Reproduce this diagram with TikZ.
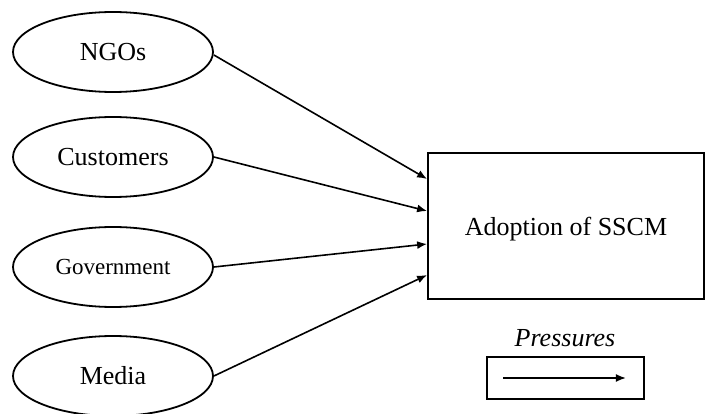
\documentclass[tikz,border=0pt]{standalone}
\usepackage{fontspec}
\setmainfont{Liberation Serif}
\usetikzlibrary{arrows.meta,shapes.geometric}
\begin{document}
\begin{tikzpicture}[x=1pt,y=-1pt,
  line width=1.8pt,
  actor/.style={draw, ellipse, minimum width=200pt, minimum height=80pt, inner sep=0pt,
    font=\fontsize{26}{30}\selectfont},
  target/.style={draw, rectangle, minimum width=276pt, minimum height=146pt, inner sep=0pt,
    font=\fontsize{26}{30}\selectfont},
  pressure/.style={-{Latex[length=10pt,width=8pt]}, line width=1.6pt}]
\useasboundingbox (0,0) rectangle (705,414);

% pressure sources
\node[actor] (ngo)  at (113,52)  {NGOs};
\node[actor] (cust) at (113,157) {Customers};
\node[actor, font=\fontsize{23}{27}\selectfont] (gov) at (113,267) {Government};
\node[actor] (media) at (113,376) {Media};

% adoption outcome
\node[target, text depth=-4pt] (sscm) at (566,226) {Adoption of SSCM};

% arrow end points on the left side of the box
\coordinate (in1) at ([yshift=47pt]sscm.west);
\coordinate (in2) at ([yshift=15pt]sscm.west);
\coordinate (in3) at ([yshift=-18pt]sscm.west);
\coordinate (in4) at ([yshift=-49pt]sscm.west);

\draw[pressure] ([yshift=-3pt]ngo.east) -- (in1);
\draw[pressure] (cust.east) -- (in2);
\draw[pressure] (gov.east) -- (in3);
\draw[pressure] (media.east) -- (in4);

% legend
\node[font=\fontsize{26}{30}\selectfont\itshape] (legtitle) at (565,338) {Pressures};
\node[draw, rectangle, minimum width=157pt, minimum height=42pt, inner sep=0pt] (legbox) at (565.5,378) {};
\coordinate (lega) at ([xshift=17pt]legbox.west);
\coordinate (legb) at ([xshift=-19pt]legbox.east);
\draw[pressure] (lega) -- (legb);
\end{tikzpicture}
\end{document}
